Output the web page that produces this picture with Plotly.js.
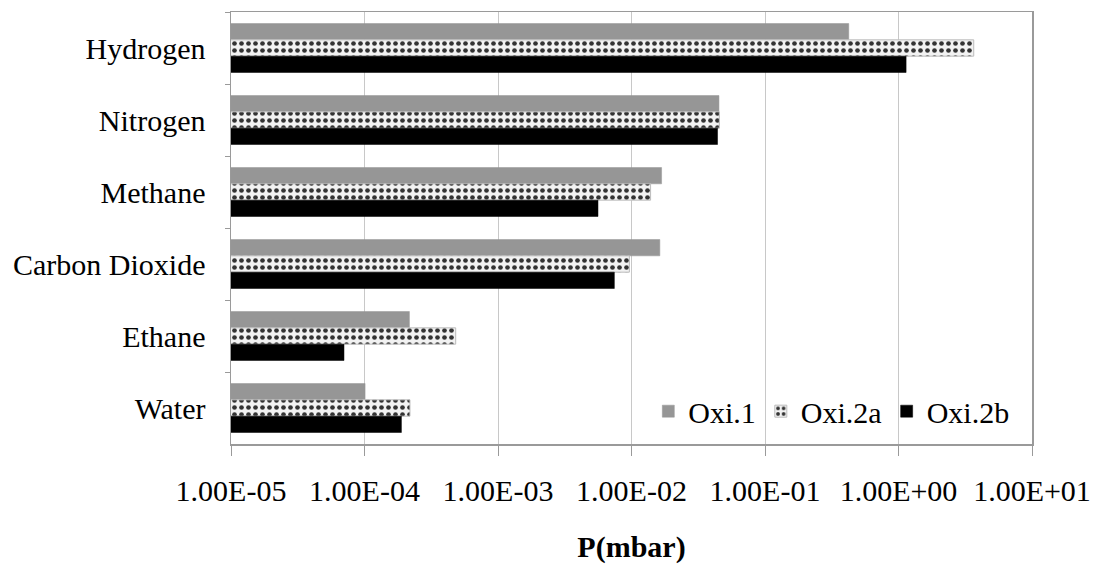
<!DOCTYPE html>
<html>
<head>
<meta charset="utf-8">
<script src="https://cdn.plot.ly/plotly-3.0.1.min.js"></script>
<style>html,body{margin:0;padding:0;background:#fff;}#chart{width:1096px;height:564px;}</style>
</head>
<body>
<div id="chart"></div>
<script>
var categories = ["Hydrogen", "Nitrogen", "Methane", "Carbon Dioxide", "Ethane", "Water"];
var oxi1  = [0.424, 0.0452, 0.0168, 0.0163, 2.17e-4, 1.01e-4];
var oxi2a = [3.66, 0.0455, 0.0139, 0.00964, 4.82e-4, 2.19e-4];
var oxi2b = [1.14, 0.0441, 0.00561, 0.00744, 7.02e-5, 1.89e-4];
var seriesNames = ["Oxi.1", "Oxi.2a", "Oxi.2b"];
var tickVals = [1e-5, 1e-4, 1e-3, 1e-2, 1e-1, 1e0, 1e1];
var tickText = ["1.00E-05", "1.00E-04", "1.00E-03", "1.00E-02", "1.00E-01", "1.00E+00", "1.00E+01"];

var font = "Liberation Serif";
var traces = [
  {type: "bar", orientation: "h", name: seriesNames[0], y: categories, x: oxi1,
   marker: {color: "#969696", line: {color: "#969696", width: 0.5}}},
  {type: "bar", orientation: "h", name: seriesNames[1], y: categories, x: oxi2a,
   marker: {color: "#f2f2f2", line: {color: "#bbbbbb", width: 1},
            pattern: {shape: ".", fgcolor: "#333333", bgcolor: "#f2f2f2", size: 7, solidity: 0.35}}},
  {type: "bar", orientation: "h", name: seriesNames[2], y: categories, x: oxi2b,
   marker: {color: "#000000", line: {color: "#000000", width: 0.5}}}
];

var layout = {
  width: 1096, height: 564,
  margin: {l: 231, r: 64, t: 12, b: 120},
  paper_bgcolor: "#ffffff", plot_bgcolor: "#ffffff",
  barmode: "group", bargap: 0.32, bargroupgap: 0,
  font: {family: font, size: 30, color: "#000"},
  showlegend: true,
  legend: {orientation: "h", x: 0.521, y: 0.076, xanchor: "left", yanchor: "middle",
           bgcolor: "rgba(255,255,255,0)", font: {family: font, size: 30, color: "#000"},
           itemwidth: 30, tracegroupgap: 0},
  xaxis: {type: "log", range: [-5, 1], tickvals: tickVals, ticktext: tickText,
          showgrid: true, gridcolor: "#c8c8c8", gridwidth: 1,
          showline: true, linecolor: "#9a9a9a", linewidth: 1.5, mirror: true,
          ticks: "outside", ticklen: 10, tickcolor: "#9a9a9a", tickwidth: 1,
          ticklabelstandoff: 9, zeroline: false,
          tickfont: {family: font, size: 30, color: "#000"},
          title: {text: "<b>P(mbar)</b>", font: {family: font, size: 30, color: "#000"}, standoff: 35}},
  yaxis: {type: "category", autorange: "reversed", showgrid: false,
          showline: true, linecolor: "#9a9a9a", linewidth: 1.5, mirror: true,
          ticks: "outside", ticklen: 5, tickcolor: "#9a9a9a", tickson: "boundaries",
          ticklabelstandoff: 18,
          tickfont: {family: font, size: 30, color: "#000"}}
};

Plotly.newPlot("chart", traces, layout, {staticPlot: true, displayModeBar: false});
</script>
</body>
</html>
